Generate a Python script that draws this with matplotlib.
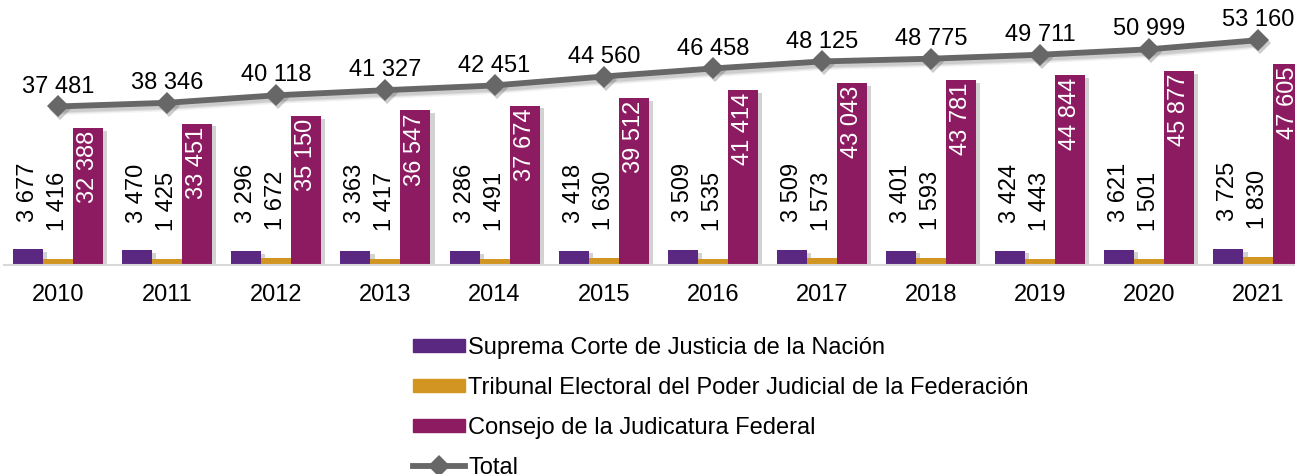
import numpy as np
import matplotlib
matplotlib.use("Agg")
import matplotlib.pyplot as plt
import matplotlib.patheffects as pe
import matplotlib.transforms as mtransforms
from matplotlib.patches import Patch
from matplotlib.lines import Line2D

years = ["2010", "2011", "2012", "2013", "2014", "2015", "2016", "2017", "2018", "2019", "2020", "2021"]
scjn = [3677, 3470, 3296, 3363, 3286, 3418, 3509, 3509, 3401, 3424, 3621, 3725]
tepjf = [1416, 1425, 1672, 1417, 1491, 1630, 1535, 1573, 1593, 1443, 1501, 1830]
cjf = [32388, 33451, 35150, 36547, 37674, 39512, 41414, 43043, 43781, 44844, 45877, 47605]
total = [37481, 38346, 40118, 41327, 42451, 44560, 46458, 48125, 48775, 49711, 50999, 53160]

labels = ["Suprema Corte de Justicia de la Nación",
          "Tribunal Electoral del Poder Judicial de la Federación",
          "Consejo de la Judicatura Federal",
          "Total"]

c_scjn = "#5A2781"
c_tepjf = "#D29522"
c_cjf = "#8C1B62"
c_tot = "#676767"

plt.rcParams['font.family'] = ['Liberation Sans', 'DejaVu Sans']
FS = 17

def fmt(v):
    return f"{v:,}".replace(",", " ")

W, H = 1295, 474
fig = plt.figure(figsize=(W / 100, H / 100), dpi=100)
ax_left = 3.5
ax_w = 1309.5
base_y = 265
ymax = 60000
px_per = 4.23 / 1000
ax_h = ymax * px_per
ax = fig.add_axes([ax_left / W, (H - base_y) / H, ax_w / W, ax_h / H])

x = np.arange(len(years))
w = 0.275
shadow = [pe.withSimplePatchShadow(offset=(3, -2), shadow_rgbFace="#808080", alpha=0.35)]
b1 = ax.bar(x - w, scjn, w, color=c_scjn, path_effects=shadow, zorder=2)
b2 = ax.bar(x, tepjf, w, color=c_tepjf, path_effects=shadow, zorder=2)
b3 = ax.bar(x + w, cjf, w, color=c_cjf, path_effects=shadow, zorder=2)

# soft shadow beneath the total line
shadow_tr = mtransforms.offset_copy(ax.transData, fig=fig, x=2, y=-3, units="dots")
for lw_s, a in [(8, 0.08), (6, 0.12), (4.5, 0.15)]:
    ax.plot(x, total, color="#606060", lw=lw_s, alpha=a, marker="D", markersize=11,
            markeredgewidth=0, transform=shadow_tr, zorder=2.5, solid_capstyle="round")
ax.plot(x, total, color=c_tot, lw=4.2, marker="D", markersize=11, markeredgewidth=0, zorder=3)

for i in range(len(years)):
    ax.annotate(fmt(scjn[i]), (x[i] - w, scjn[i]), xytext=(0, 20), textcoords="offset points",
                rotation=90, ha="center", va="bottom", fontsize=FS, color="black")
    ax.annotate(fmt(tepjf[i]), (x[i], tepjf[i]), xytext=(0, 20), textcoords="offset points",
                rotation=90, ha="center", va="bottom", fontsize=FS, color="black")
    ax.annotate(fmt(cjf[i]), (x[i] + w, cjf[i]), xytext=(0, -2), textcoords="offset points",
                rotation=90, ha="center", va="top", fontsize=FS, color="white")
    ax.annotate(fmt(total[i]), (x[i], total[i]), xytext=(0, 10), textcoords="offset points",
                ha="center", va="baseline", fontsize=FS, color="black")

ax.set_xlim(-0.5, len(years) - 0.5)
ax.set_ylim(0, ymax)
ax.set_xticks(x)
ax.set_xticklabels(years, fontsize=FS)
ax.tick_params(axis="x", length=0, pad=14)
ax.set_yticks([])
for s in ["top", "right", "left"]:
    ax.spines[s].set_visible(False)
ax.spines["bottom"].set_color("#D9D9D9")
ax.spines["bottom"].set_linewidth(1.5)
ax.patch.set_alpha(0)

handles = [Patch(color=c_scjn), Patch(color=c_tepjf), Patch(color=c_cjf),
           Line2D([], [], color=c_tot, lw=4.2, marker="D", markersize=11, markeredgewidth=0)]
fig.legend(handles, labels, loc="upper left", bbox_to_anchor=(413 / W, (H - 337) / H),
           frameon=False, fontsize=FS, handlelength=2.2, handleheight=0.5,
           handletextpad=0.15, labelspacing=0.76, borderpad=0, borderaxespad=0)

fig.savefig("out.png", dpi=100)
